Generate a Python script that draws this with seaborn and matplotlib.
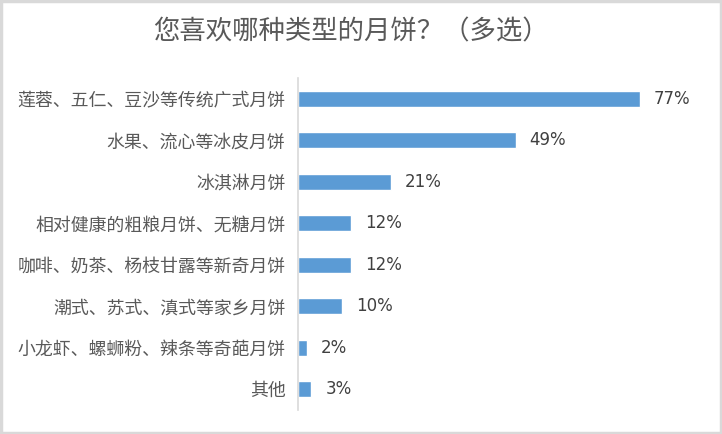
import matplotlib
matplotlib.use("Agg")
import matplotlib.pyplot as plt
import seaborn as sns
import pandas as pd
from matplotlib.patches import Rectangle

categories = ["莲蓉、五仁、豆沙等传统广式月饼", "水果、流心等冰皮月饼", "冰淇淋月饼",
              "相对健康的粗粮月饼、无糖月饼", "咖啡、奶茶、杨枝甘露等新奇月饼",
              "潮式、苏式、滇式等家乡月饼", "小龙虾、螺蛳粉、辣条等奇葩月饼", "其他"]
values = [77, 49, 21, 12, 12, 10, 2, 3]
title = "您喜欢哪种类型的月饼？（多选）"

sns.set_theme(style="white")
plt.rcParams['font.family'] = ['Noto Sans CJK SC', 'DejaVu Sans']

df = pd.DataFrame({"cat": categories, "val": values})

fig = plt.figure(figsize=(7.22, 4.34), dpi=100)
ax = fig.add_axes([298/722, 24/434, 400/722, 332/434])
sns.barplot(data=df, y="cat", x="val", orient="h", color="#5B9BD5",
            saturation=1, width=0.38, ax=ax)
ax.set_xlim(0, 90)
ax.set_ylim(7.5, -0.5)
ax.set_xlabel("")
ax.set_ylabel("")
ax.set_xticks([])
for s in ["top", "right", "bottom"]:
    ax.spines[s].set_visible(False)
ax.spines["left"].set_color("#d9d9d9")
ax.spines["left"].set_linewidth(1.2)
ax.tick_params(axis="y", length=0, pad=9, labelsize=12.9, labelcolor="#595959")

for i, v in enumerate(values):
    ax.annotate(f"{v}%", (v, i), xytext=(10, 0), textcoords="offset points",
                va="center", ha="left", fontsize=12, color="#404040",
                family=["DejaVu Sans"])

fig.text(351/722, 1 - 32/434, title, ha="center", va="center", fontsize=19,
         color="#595959")

fig.patches.append(Rectangle((0.0015, 0.0025), 0.997, 0.995, transform=fig.transFigure,
                             fill=False, edgecolor="#d9d9d9", linewidth=2.5))

fig.savefig("out.png", dpi=100)
